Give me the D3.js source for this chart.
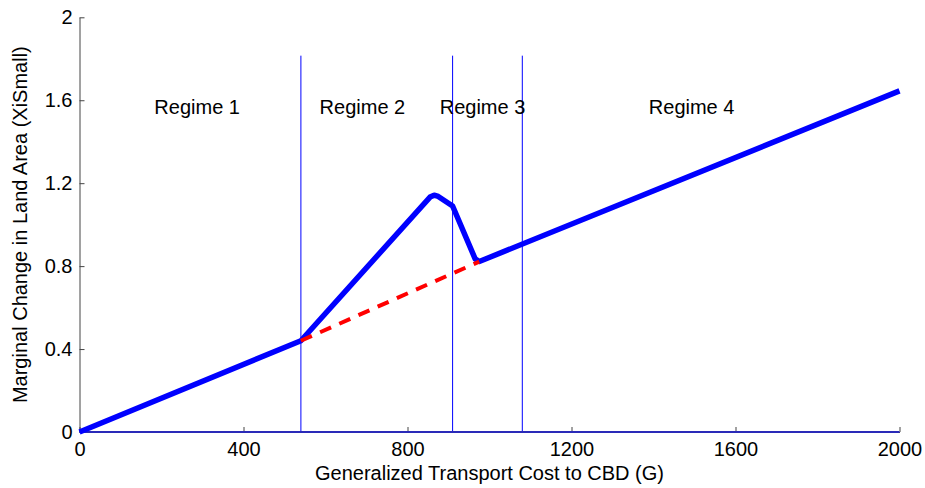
<!DOCTYPE html>
<html>
<head>
<meta charset="utf-8">
<script src="https://cdn.jsdelivr.net/npm/d3@7"></script>
<style>
  html, body { margin: 0; padding: 0; background: #fff; }
  svg text { font-family: "Liberation Sans", Arial, Helvetica, sans-serif; fill: #000; }
</style>
</head>
<body>
<svg id="chart" width="925" height="488"></svg>
<script>
// Marginal change in land area vs. generalized transport cost
const costG      = [0, 540, 855, 865, 875, 910, 965, 975, 2000];
const xiSmall    = [0, 0.44, 1.133, 1.142, 1.136, 1.09, 0.835, 0.822, 1.645];
const dashedG    = [540, 975];
const dashedXi   = [0.44, 0.822];
const boundaryG  = [540, 910, 1080];
const boundaryTop = 1.815;
const regimeNames = ["Regime 1", "Regime 2", "Regime 3", "Regime 4"];
const regimeG     = [287, 690, 983, 1493];
const regimeY     = 1.533;
const xTicks = [0, 400, 800, 1200, 1600, 2000];
const yTicks = [0, 0.4, 0.8, 1.2, 1.6, 2];

const FONT = 20;
const svg = d3.select("#chart");
const x = d3.scaleLinear().domain([0, 2000]).range([79.5, 899.5]);
const y = d3.scaleLinear().domain([0, 2]).range([432, 17.3]);

// Axes (ticks point inward)
const xAxis = svg.append("g").attr("transform", `translate(0,${y(0)})`)
  .call(d3.axisBottom(x).tickValues(xTicks).tickSizeInner(-5).tickSizeOuter(0)
        .tickPadding(10).tickFormat(d3.format("d")));
const yAxis = svg.append("g").attr("transform", `translate(${x(0)},0)`)
  .call(d3.axisLeft(y).tickValues(yTicks).tickSizeInner(-5).tickSizeOuter(0)
        .tickPadding(7).tickFormat(d => Number.isInteger(d) ? String(d) : d.toFixed(1)));
[xAxis, yAxis].forEach(g => {
  g.select(".domain").attr("stroke", "#444").attr("stroke-width", 1);
  g.selectAll(".tick line").attr("stroke", "#444");
  g.selectAll(".tick text").attr("font-size", FONT).attr("fill", "#000")
    .attr("font-family", "Liberation Sans, Arial, sans-serif");
});

// Regime boundaries
svg.append("g").selectAll("line").data(boundaryG).join("line")
  .attr("x1", d => x(d)).attr("x2", d => x(d))
  .attr("y1", y(0)).attr("y2", y(boundaryTop))
  .attr("stroke", "#0000ff").attr("stroke-width", 1);

// Zero line along the horizontal axis
svg.append("line")
  .attr("x1", x(0)).attr("x2", x(2000)).attr("y1", y(0)).attr("y2", y(0))
  .attr("stroke", "#2a2ab8").attr("stroke-width", 2);

// Regime labels
svg.append("g").selectAll("text").data(regimeNames).join("text")
  .attr("x", (d, i) => x(regimeG[i])).attr("y", y(regimeY))
  .attr("text-anchor", "middle").attr("font-size", FONT)
  .text(d => d);

const line = d3.line().x(d => x(d[0])).y(d => y(d[1]));

// Main curve
svg.append("path")
  .datum(costG.map((g, i) => [g, xiSmall[i]]))
  .attr("d", line)
  .attr("fill", "none").attr("stroke", "#0000ff").attr("stroke-width", 5.5)
  .attr("stroke-linejoin", "round").attr("stroke-linecap", "butt");

// Linear continuation (dashed)
svg.append("path")
  .datum(dashedG.map((g, i) => [g, dashedXi[i]]))
  .attr("d", line)
  .attr("fill", "none").attr("stroke", "#ff0000").attr("stroke-width", 4)
  .attr("stroke-dasharray", "12,9");

// Axis titles
svg.append("text")
  .attr("x", (x(0) + x(2000)) / 2).attr("y", 480)
  .attr("text-anchor", "middle").attr("font-size", FONT)
  .text("Generalized Transport Cost to CBD (G)");
svg.append("text")
  .attr("transform", `translate(27,${(y(0) + y(2)) / 2}) rotate(-90)`)
  .attr("text-anchor", "middle").attr("font-size", FONT)
  .text("Marginal Change in Land Area (XiSmall)");
</script>
</body>
</html>
